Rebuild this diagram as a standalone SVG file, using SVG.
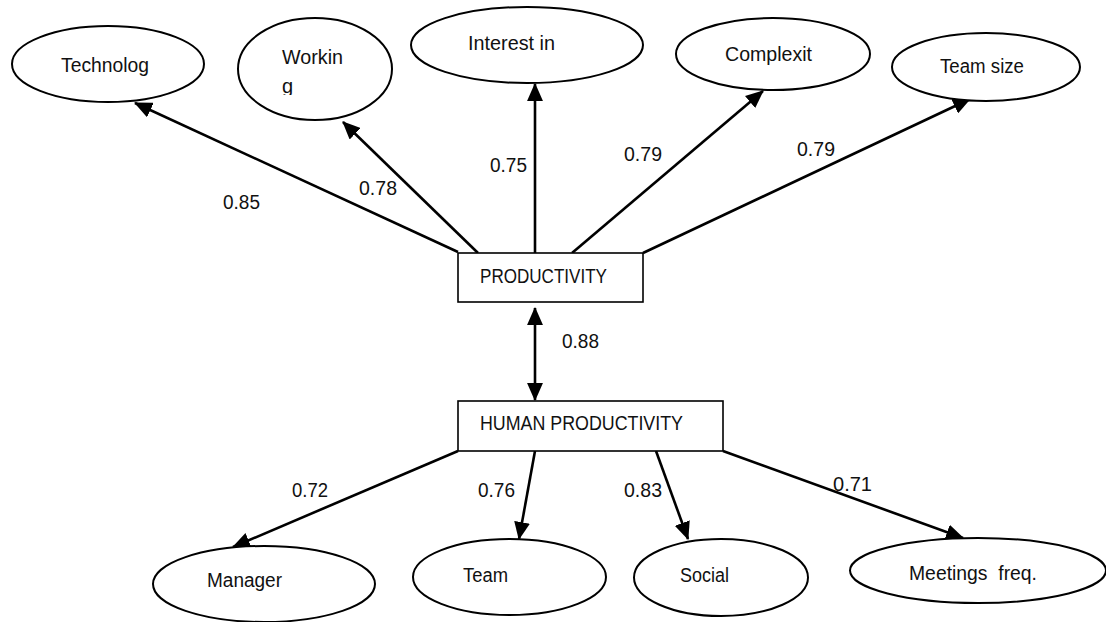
<svg xmlns="http://www.w3.org/2000/svg" width="1106" height="622" viewBox="0 0 1106 622">
<style>
.node ellipse{fill:#fff;stroke:#000;stroke-width:2}
.node rect{fill:#fff;stroke:#000;stroke-width:1.6}
text{font-family:"Liberation Sans",Arial,sans-serif;font-size:20px;fill:#111}
#connectors line{stroke:#000;stroke-width:2.6;fill:none}
.one{marker-end:url(#ah)}
.two{marker-end:url(#ah);marker-start:url(#ah)}
</style>
<defs>
<marker id="ah" markerUnits="userSpaceOnUse" markerWidth="18" markerHeight="16" viewBox="0 0 17 15" refX="16" refY="7.5" orient="auto-start-reverse">
<path d="M0,0 L17,7.5 L0,15 z" fill="#000"/>
</marker>
<clipPath id="clipW"><rect x="230" y="0" width="200" height="95"/></clipPath>
</defs>
<rect width="1106" height="622" fill="#fff"/>

<g id="labels">
<text x="223" y="209" textLength="37" lengthAdjust="spacingAndGlyphs">0.85</text>
<text x="359" y="195" textLength="38" lengthAdjust="spacingAndGlyphs">0.78</text>
<text x="490" y="172" textLength="37" lengthAdjust="spacingAndGlyphs">0.75</text>
<text x="624" y="161" textLength="38" lengthAdjust="spacingAndGlyphs">0.79</text>
<text x="797" y="156" textLength="38" lengthAdjust="spacingAndGlyphs">0.79</text>
<text x="562" y="348" textLength="37" lengthAdjust="spacingAndGlyphs">0.88</text>
<text x="292" y="497" textLength="36" lengthAdjust="spacingAndGlyphs">0.72</text>
<text x="478" y="497" textLength="37" lengthAdjust="spacingAndGlyphs">0.76</text>
<text x="624" y="497" textLength="38" lengthAdjust="spacingAndGlyphs">0.83</text>
<text x="833" y="491" textLength="39" lengthAdjust="spacingAndGlyphs">0.71</text>
</g>

<g id="connectors">
<line class="one" x1="458" y1="252" x2="135" y2="103"/>
<line class="one" x1="478" y1="253" x2="343" y2="122"/>
<line class="one" x1="535" y1="253" x2="535" y2="84"/>
<line class="one" x1="572" y1="253" x2="763" y2="91"/>
<line class="one" x1="643" y1="253" x2="970" y2="99"/>
<line class="two" x1="535" y1="308" x2="535" y2="400"/>
<line class="one" x1="458" y1="451" x2="233" y2="547"/>
<line class="one" x1="535" y1="451" x2="519" y2="539"/>
<line class="one" x1="656" y1="451" x2="688" y2="539"/>
<line class="one" x1="723" y1="451" x2="963" y2="538"/>
</g>

<g id="technology" class="node">
<ellipse cx="108" cy="64" rx="96" ry="38"/>
<text x="61" y="72" textLength="88" lengthAdjust="spacingAndGlyphs">Technolog</text>
</g>
<g id="working" class="node">
<ellipse cx="315" cy="69" rx="77" ry="51"/>
<text x="282" y="64" textLength="61" lengthAdjust="spacingAndGlyphs">Workin</text>
<text x="282" y="93" clip-path="url(#clipW)">g</text>
</g>
<g id="interest" class="node">
<ellipse cx="527" cy="45" rx="116" ry="38"/>
<text x="468" y="50" textLength="87" lengthAdjust="spacingAndGlyphs">Interest in</text>
</g>
<g id="complexity" class="node">
<ellipse cx="773" cy="54" rx="97" ry="36"/>
<text x="725" y="61" textLength="87" lengthAdjust="spacingAndGlyphs">Complexit</text>
</g>
<g id="teamsize" class="node">
<ellipse cx="986" cy="67" rx="94" ry="34"/>
<text x="940" y="73" textLength="84" lengthAdjust="spacingAndGlyphs">Team size</text>
</g>
<g id="productivity" class="node">
<rect x="458" y="253" width="185" height="49"/>
<text x="480" y="283" textLength="127" lengthAdjust="spacingAndGlyphs">PRODUCTIVITY</text>
</g>
<g id="human" class="node">
<rect x="458" y="401" width="265" height="50"/>
<text x="480" y="430" textLength="203" lengthAdjust="spacingAndGlyphs">HUMAN PRODUCTIVITY</text>
</g>
<g id="manager" class="node">
<ellipse cx="264" cy="584" rx="111" ry="38"/>
<text x="207" y="587" textLength="75" lengthAdjust="spacingAndGlyphs">Manager</text>
</g>
<g id="team" class="node">
<ellipse cx="509.5" cy="577" rx="96.5" ry="38"/>
<text x="463" y="582" textLength="45" lengthAdjust="spacingAndGlyphs">Team</text>
</g>
<g id="social" class="node">
<ellipse cx="721" cy="577.5" rx="87" ry="38.5"/>
<text x="680" y="582" textLength="49" lengthAdjust="spacingAndGlyphs">Social</text>
</g>
<g id="meetings" class="node">
<ellipse cx="978" cy="570.5" rx="128" ry="32.5"/>
<text x="909" y="580" textLength="128" lengthAdjust="spacingAndGlyphs" style="white-space:pre" xml:space="preserve">Meetings  freq.</text>
</g>
</svg>
